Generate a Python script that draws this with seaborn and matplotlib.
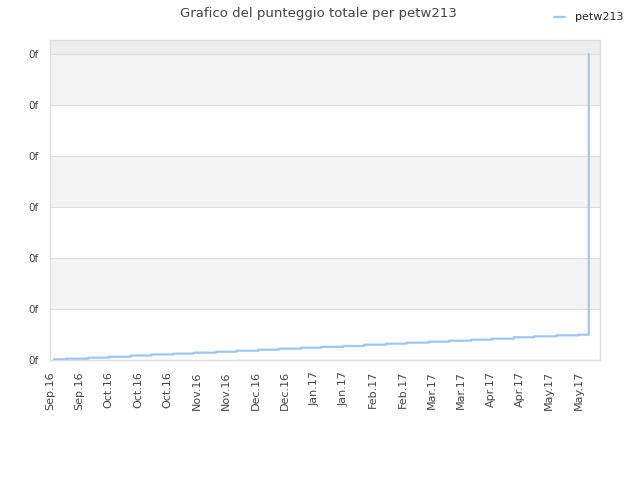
import pandas as pd
import matplotlib
matplotlib.use('Agg')
import matplotlib.pyplot as plt
import matplotlib.dates as mdates
import seaborn as sns

## Data
step_dates = ['2016-09-04', '2016-09-10', '2016-09-21', '2016-10-01', '2016-10-12',
              '2016-10-22', '2016-11-02', '2016-11-12', '2016-11-23', '2016-12-03',
              '2016-12-14', '2016-12-24', '2017-01-04', '2017-01-14', '2017-01-25',
              '2017-02-04', '2017-02-15', '2017-02-25', '2017-03-08', '2017-03-18',
              '2017-03-29', '2017-04-08', '2017-04-19', '2017-04-29', '2017-05-10',
              '2017-05-21', '2017-05-26']
punteggio = [0.7, 1.3, 2.3, 3.2, 4.4, 5.4, 6.2, 7.2, 8.1, 9.1, 10.1, 11.1, 12.1,
             12.9, 13.7, 15.0, 16.0, 17.0, 17.9, 18.9, 19.9, 20.9, 22.3, 23.2,
             24.2, 24.8, 300]
x_labels = ['Sep.16', 'Sep.16', 'Oct.16', 'Oct.16', 'Oct.16', 'Nov.16', 'Nov.16',
            'Dec.16', 'Dec.16', 'Jan.17', 'Jan.17', 'Feb.17', 'Feb.17', 'Mar.17',
            'Mar.17', 'Apr.17', 'Apr.17', 'May.17', 'May.17']
y_ticks = [0, 50, 100, 150, 200, 250, 300]

df = pd.DataFrame({'data': pd.to_datetime(step_dates), 'punteggio': punteggio})

sns.set_style('white')
plt.rcParams['font.family'] = ['DejaVu Sans']

fig = plt.figure(figsize=(6.4, 4.8), dpi=100)
ax = fig.add_axes([0.078, 0.25, 0.86, 0.6667])

## alternating bands
ax.axhspan(50, 100, color='#f3f3f3', zorder=0, lw=0)
ax.axhspan(150, 200, color='#f3f3f3', zorder=0, lw=0)
ax.axhspan(250, 300, color='#f3f3f3', zorder=0, lw=0)
ax.axhspan(300, 400, color='#ededed', zorder=0, lw=0)
for y in y_ticks:
    ax.axhline(y, color='#dddddd', lw=0.8, zorder=1)

sns.lineplot(data=df, x='data', y='punteggio', drawstyle='steps-post',
             color='#9cc8f4', linewidth=1.6, label='petw213', ax=ax, zorder=3,
             snap=False)

start = mdates.date2num(pd.Timestamp('2016-09-02'))
ax.set_xlim(start, start + 271.7)
ax.set_ylim(0, 313.7)

ax.set_xticks([start + 14.5 * i for i in range(len(x_labels))])
ax.set_xticklabels(x_labels, rotation=90, fontsize=8, color='#444444')
ax.set_yticks(y_ticks)
ax.set_yticklabels(['0f'] * len(y_ticks), fontsize=7.5, color='#444444')
ax.tick_params(axis='x', length=0, pad=8)
ax.tick_params(axis='y', length=0, pad=8)
ax.set_xlabel('')
ax.set_ylabel('')

for s in ax.spines.values():
    s.set_color('#dddddd')
    s.set_linewidth(1)

ax.get_legend().remove()
handles, labels = ax.get_legend_handles_labels()
fig.legend(handles, labels, loc='upper right', bbox_to_anchor=(0.99, 0.995),
           frameon=False, fontsize=8, handlelength=1.0, handletextpad=0.9)

fig.suptitle('Grafico del punteggio totale per petw213', x=0.497, y=0.985,
             fontsize=9.5, color='#444444')

plt.savefig('out.png', dpi=100)
